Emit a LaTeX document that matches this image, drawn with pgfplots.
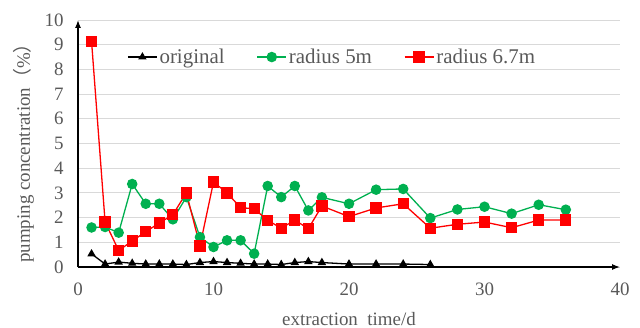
\documentclass[border=0pt]{standalone}
\usepackage{fontspec}
\setmainfont{Liberation Serif}
\newfontfamily\cjk{Noto Sans CJK SC}
\usepackage{pgfplots}
\pgfplotsset{compat=1.18}
\usetikzlibrary{arrows.meta}
\definecolor{tgray}{HTML}{595959}
\definecolor{gridc}{HTML}{D9D9D9}
\definecolor{xgreen}{HTML}{00B050}
\definecolor{xred}{HTML}{FF0000}
\begin{document}
\begin{tikzpicture}
\path[use as bounding box] (-78bp,-61bp) rectangle (562bp,267bp);
\begin{axis}[
  scale only axis, width=542bp, height=247bp,
  xmin=0, xmax=40, ymin=0, ymax=10,
  axis lines=left,
  axis line style={black, line width=1.3bp, -{Latex[length=8bp,width=6bp]}},
  xtick={0,10,20,30,40}, ytick={0,1,...,10},
  ymajorgrids, grid style={gridc, line width=0.9bp},
  major tick length=0,
  tick label style={font=\fontsize{19}{22}\selectfont, text=tgray},
  /pgf/number format/assume math mode=true,
  xticklabel style={yshift=-12bp},
  yticklabel style={xshift=-11bp},
  xlabel={extraction\ \ time/d},
  ylabel={pumping concentration{\cjk （}\%{\cjk ）}},
  label style={font=\fontsize{19}{22}\selectfont, text=tgray},
  xlabel style={at={(axis description cs:0.5,-0.21)}, anchor=center},
  ylabel style={at={(axis description cs:-0.1,0.48)}, anchor=center},
  legend style={at={(rel axis cs:0.085,0.85)}, anchor=west, draw=none, fill=none,
    font=\fontsize{21}{24}\selectfont, text=tgray,
    /tikz/every even column/.append style={column sep=30bp}},
  legend columns=3,
  legend image code/.code={\draw[mark repeat=2,mark phase=2,#1] plot coordinates {(0bp,0bp) (14.5bp,0bp) (29bp,0bp)};},
]
\addplot[black, line width=1.3bp, mark=triangle*, mark size=3.6bp, mark options={solid}] coordinates {
(1,0.53) (2,0.12) (3,0.2) (4,0.15) (5,0.12) (6,0.12) (7,0.12) (8,0.1) (9,0.18) (10,0.22)
(11,0.18) (12,0.15) (13,0.12) (14,0.12) (15,0.1) (16,0.18) (17,0.22) (18,0.18)
(20,0.12) (22,0.12) (24,0.12) (26,0.1)};
\addlegendentry{original}
\addplot[xgreen, line width=1.3bp, mark=*, mark size=4.6bp] coordinates {
(1,1.6) (2,1.62) (3,1.39) (4,3.36) (5,2.56) (6,2.56) (7,1.93) (8,2.83) (9,1.21) (10,0.81)
(11,1.08) (12,1.08) (13,0.54) (14,3.28) (15,2.83) (16,3.28) (17,2.29) (18,2.82)
(20,2.56) (22,3.13) (24,3.16) (26,1.98) (28,2.33) (30,2.44) (32,2.16) (34,2.52) (36,2.32)};
\addlegendentry{radius 5m}
\addplot[xred, line width=1.3bp, mark=square*, mark size=5bp] coordinates {
(1,9.14) (2,1.82) (3,0.67) (4,1.05) (5,1.43) (6,1.78) (7,2.12) (8,3.0) (9,0.85) (10,3.44)
(11,3.0) (12,2.40) (13,2.36) (14,1.89) (15,1.57) (16,1.90) (17,1.55) (18,2.47)
(20,2.04) (22,2.39) (24,2.56) (26,1.57) (28,1.73) (30,1.82) (32,1.59) (34,1.90) (36,1.90)};
\addlegendentry{radius 6.7m}
\end{axis}
\end{tikzpicture}
\end{document}
